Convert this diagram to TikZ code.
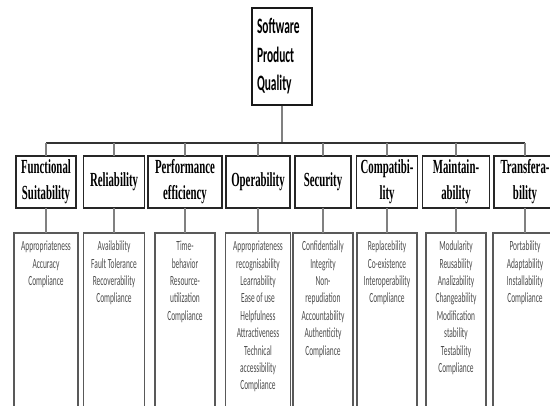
\documentclass[tikz,border=0pt]{standalone}
\usepackage{fontspec}
\usetikzlibrary{positioning}
\newfontfamily\catfont[FakeStretch=0.54]{Liberation Serif}
\newfontfamily\topfont[FakeStretch=0.52]{Carlito}
\newfontfamily\itemfont[FakeStretch=0.53]{Carlito}

\begin{document}
\begin{tikzpicture}[x=1pt, y=-1pt]
        \tikzset{
          topbox/.style={draw=black!90, line width=1.2pt, minimum height=97pt, text width=50pt, inner xsep=5pt, align=left, font=\topfont\bfseries\fontsize{22}{28.5}\selectfont},
          catbox/.style={draw=black!85, line width=1.4pt, minimum height=52pt, inner sep=0pt, outer sep=0pt, align=center, font=\catfont\bfseries\fontsize{20}{26}\selectfont},
          subbox/.style={draw=black!65, line width=1.1pt, inner xsep=0pt, inner ysep=8pt, outer sep=0pt, text=black!70,
            execute at begin node={\begin{minipage}[t][180pt][t]{#1}\centering\itemfont\fontsize{14}{17.4}\selectfont},
            execute at end node={\end{minipage}}},
          bus/.style={draw=black!80, line width=1.3pt},
          link/.style={draw=black!50, line width=1.1pt}
        }
        \useasboundingbox (0,0) rectangle (550,406);
        \clip (0,0) rectangle (550,406);

        \node (top) [topbox] at (282,56.5) {Software\\Product\\Quality};

        \node (cat1) [catbox, minimum width=60pt] at (46,182) {Functional\\Suitability};
        \node (cat2) [catbox, minimum width=61pt, right=7.5pt of cat1] {Reliability};
        \node (cat3) [catbox, minimum width=74pt, right=3.5pt of cat2] {Performance\\efficiency};
        \node (cat4) [catbox, minimum width=64pt, right=4pt of cat3] {Operability};
        \node (cat5) [catbox, minimum width=56pt, right=5pt of cat4] {Security};
        \node (cat6) [catbox, minimum width=61pt, right=5.5pt of cat5] {Compatibi-\\lity};
        \node (cat7) [catbox, minimum width=67pt, right=5pt of cat6] {Maintain-\\ability};
        \node (cat8) [catbox, minimum width=62pt, right=4.5pt of cat7] {Transfera-\\bility};

        \node (sub1) [subbox=64pt, below=25pt of cat1] {Appropriateness\\Accuracy\\Compliance};
        \node (sub2) [subbox=61pt, below=25pt of cat2] {Availability\\Fault Tolerance\\Recoverability\\Compliance};
        \node (sub3) [subbox=60pt, below=25pt of cat3] {Time-\\behavior\\Resource-\\utilization\\Compliance};
        \node (sub4) [subbox=65pt, below=25pt of cat4] {Appropriateness\\recognisability\\Learnability\\Ease of use\\Helpfulness\\Attractiveness\\Technical\\accessibility\\Compliance};
        \node (sub5) [subbox=60pt, below=25pt of cat5] {Confidentially\\Integrity\\Non-\\repudiation\\Accountability\\Authenticity\\Compliance};
        \node (sub6) [subbox=60pt, below=25pt of cat6] {Replacebility\\Co-existence\\Interoperability\\Compliance};
        \node (sub7) [subbox=60pt, below=25pt of cat7] {Modularity\\Reusability\\Analizability\\Changeability\\Modification\\stability\\Testability\\Compliance};
        \node (sub8) [subbox=64pt, below=25pt of cat8] {Portability\\Adaptability\\Installability\\Compliance};

        \coordinate (bus) at (282,143);
        \draw [link] (top.south) -- (bus);
        \draw [bus] (cat1.north |- bus) -- (cat8.north |- bus);
        \foreach \i in {1,...,8} {
          \draw [link] (cat\i.north |- bus) -- (cat\i.north);
          \draw [link] (cat\i.south) -- (sub\i.north);
        }
    \end{tikzpicture}
\end{document}
